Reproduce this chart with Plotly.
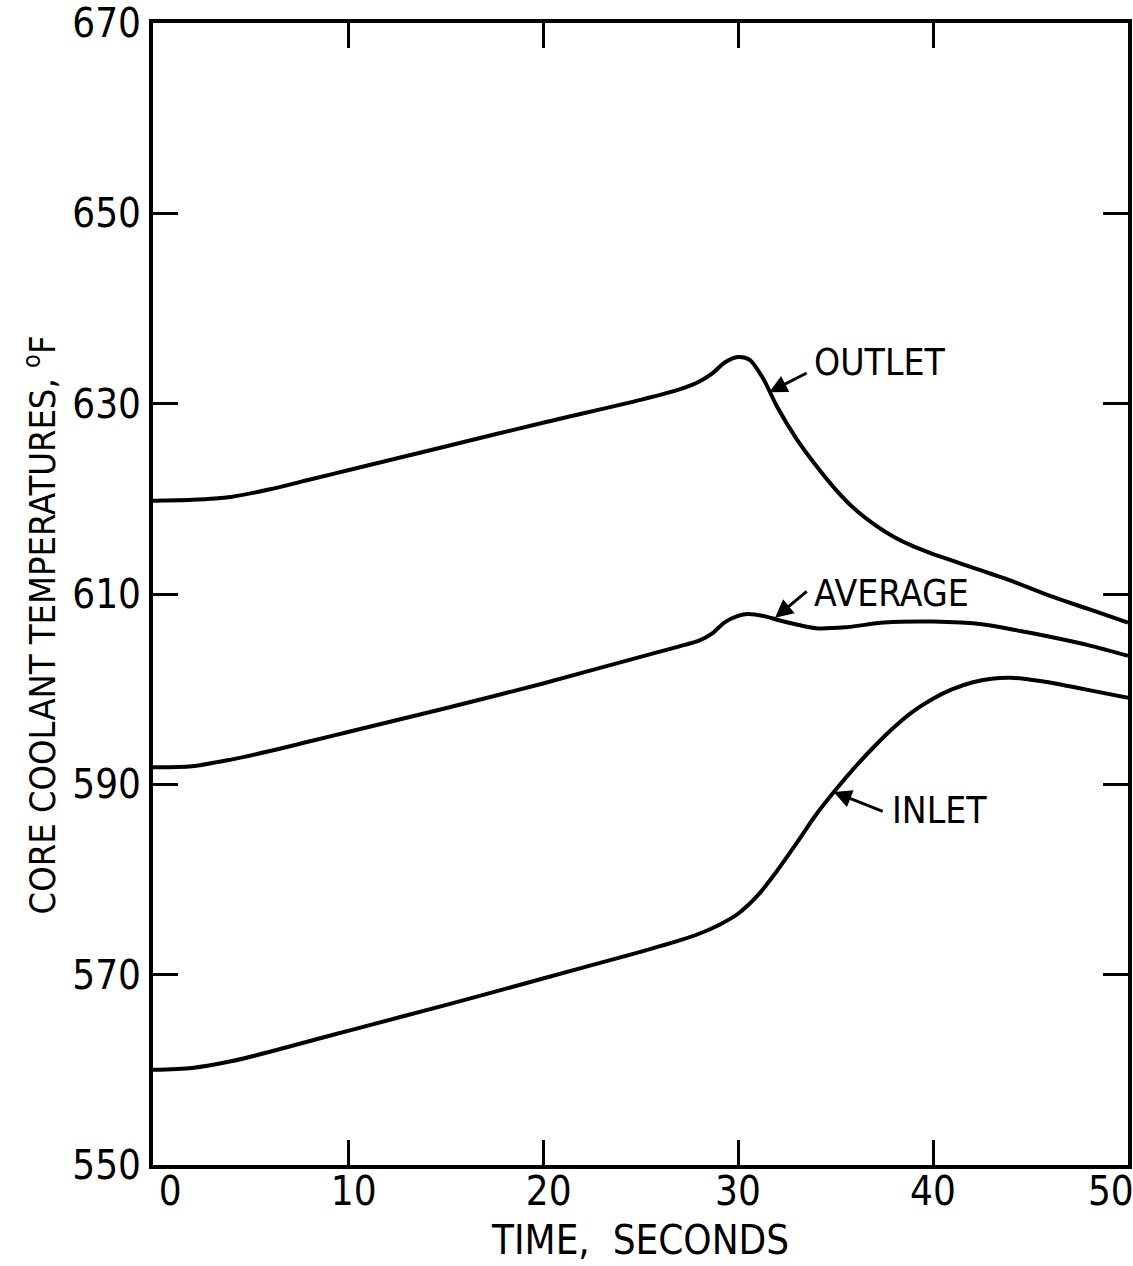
import plotly.graph_objects as go

# ---- data ----
outlet_t = [0, 2, 4, 6, 8, 10, 15, 20, 25, 27, 28, 28.7, 29.3, 30, 30.6, 31.3, 32, 33, 34, 35, 36, 37, 38, 39, 40, 41, 42, 43, 44, 46, 48, 50]
outlet_v = [619.8, 619.9, 620.2, 621.0, 622.0, 623.0, 625.5, 628.0, 630.4, 631.5, 632.3, 633.2, 634.3, 634.9, 634.6, 632.6, 629.7, 626.3, 623.5, 621.0, 618.9, 617.3, 616.0, 615.0, 614.2, 613.5, 612.8, 612.1, 611.4, 609.8, 608.4, 607.0]

average_t = [0, 2, 4, 6, 8, 10, 15, 20, 25, 27, 28, 28.7, 29.3, 30, 30.5, 31.5, 32, 33, 34, 35.5, 37.5, 40, 42.6, 44, 46, 48, 50]
average_v = [591.8, 591.9, 592.6, 593.5, 594.5, 595.5, 598.0, 600.6, 603.4, 604.5, 605.1, 605.9, 607.0, 607.7, 607.9, 607.6, 607.3, 606.8, 606.4, 606.5, 607.0, 607.1, 606.8, 606.3, 605.5, 604.6, 603.5]

inlet_t = [0, 2, 4, 6, 8, 10, 15, 20, 25, 27, 28, 29, 30, 31, 32, 33, 34, 35, 36, 37, 38, 39, 40, 41, 42, 43, 44, 45, 46, 47, 48, 50]
inlet_v = [560.0, 560.2, 560.9, 561.9, 563.0, 564.1, 566.8, 569.6, 572.4, 573.6, 574.3, 575.2, 576.4, 578.3, 580.9, 583.8, 586.8, 589.4, 591.8, 594.0, 596.0, 597.7, 599.0, 600.0, 600.7, 601.1, 601.2, 601.0, 600.7, 600.3, 599.9, 599.1]

x_ticks = [0, 10, 20, 30, 40, 50]
x_tick_text = ["\u00a0\u00a0\u00a00", "\u00a010", "\u00a020", "30", "40", "50\u00a0\u00a0\u00a0"]
y_ticks = [550, 570, 590, 610, 630, 650, 670]
y_tick_text = ["550", "570", "590", "610", "630", "650", "670"]

# label text positions, arrow tails and arrow tips (data coords)
labels = ["OUTLET", "AVERAGE", "INLET"]
label_x = [33.8, 33.8, 37.8]
label_y = [634.3, 610.1, 587.3]
tail_x = [33.6, 33.6, 37.5]
tail_y = [633.3, 610.4, 587.1]
tip_x = [31.6, 31.9, 34.9]
tip_y = [631.2, 607.5, 589.2]

FONT = "Liberation Sans Narrow, DejaVu Sans Condensed, Arial Narrow, sans-serif"

fig = go.Figure()
for t, v, name in [(outlet_t, outlet_v, "OUTLET"), (average_t, average_v, "AVERAGE"), (inlet_t, inlet_v, "INLET")]:
    fig.add_trace(go.Scatter(x=t, y=v, mode="lines", name=name,
                             line=dict(color="black", width=4, shape="spline", smoothing=0.8),
                             showlegend=False, hoverinfo="skip"))

annotations = []
for i, lab in enumerate(labels):
    annotations.append(dict(x=label_x[i], y=label_y[i], xref="x", yref="y", text=lab,
                            showarrow=False, xanchor="left", yanchor="middle",
                            font=dict(family=FONT, size=37, color="black")))
    annotations.append(dict(x=tip_x[i], y=tip_y[i], xref="x", yref="y",
                            ax=tail_x[i], ay=tail_y[i], axref="x", ayref="y",
                            text="", showarrow=True, arrowhead=2, arrowsize=1.2,
                            arrowwidth=3, arrowcolor="black", standoff=0))

annotations.append(dict(x=0, y=606.7, xref="paper", yref="y", xshift=-113,
                        text="CORE COOLANT TEMPERATURES, <sup>o</sup>F",
                        textangle=-90, showarrow=False, xanchor="center", yanchor="middle",
                        font=dict(family=FONT, size=36, color="black")))
annotations.append(dict(x=0.499, y=0, xref="paper", yref="paper", yshift=-75,
                        text="TIME,  SECONDS", showarrow=False,
                        xanchor="center", yanchor="middle",
                        font=dict(family=FONT, size=40, color="black")))

axis_common = dict(showline=True, linewidth=4, linecolor="black", mirror="ticks",
                   ticks="inside", ticklen=25, tickwidth=3, tickcolor="black",
                   showgrid=False, zeroline=False, ticklabeloverflow="allow",
                   automargin=False,
                   tickfont=dict(family=FONT, size=40, color="black"))

fig.update_layout(
    width=1133, height=1266,
    margin=dict(l=153, r=5, t=23, b=101, autoexpand=False),
    paper_bgcolor="white", plot_bgcolor="white",
    xaxis=dict(range=[0, 50], tickvals=x_ticks, ticktext=x_tick_text,
               ticklabelstandoff=-12, **axis_common),
    yaxis=dict(range=[550, 670], tickvals=y_ticks, ticktext=y_tick_text, **axis_common),
    annotations=annotations,
)

fig.write_html("out.html")
